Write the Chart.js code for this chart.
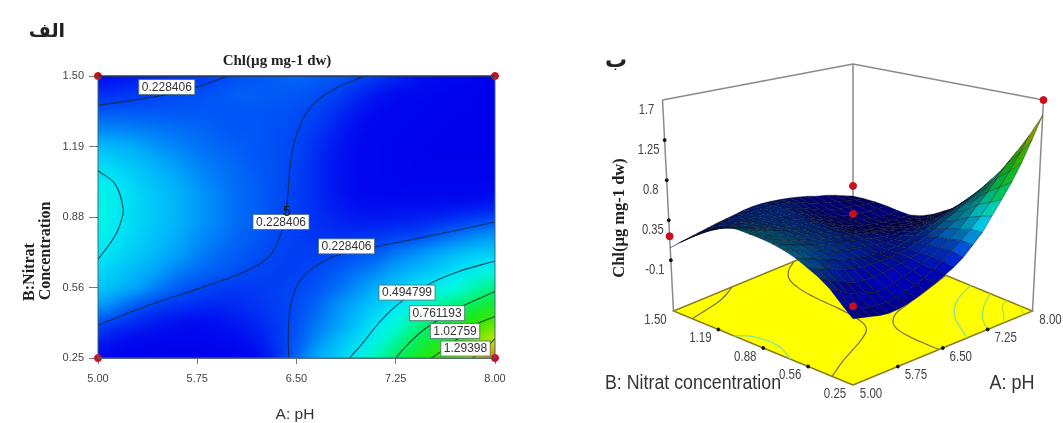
<!DOCTYPE html>
<html>
<head>
<meta charset="utf-8">
<title>Chl contour and surface</title>
<script src="https://cdn.jsdelivr.net/npm/chart.js@4/dist/chart.umd.js"></script>
<style>
  html, body { margin: 0; padding: 0; background: #fff; }
  canvas { position: absolute; top: 0; }
  #contourChart { left: 0; }
  #surfaceChart { left: 560px; }
</style>
</head>
<body>
<canvas id="contourChart" width="560" height="423"></canvas>
<canvas id="surfaceChart" width="503" height="423"></canvas>
<script>
// axis values
const phTicks = [5, 5.75, 6.5, 7.25, 8];
const phTickLabels = ['5.00', '5.75', '6.50', '7.25', '8.00'];
const nitrateTicks = [0.25, 0.5625, 0.875, 1.1875, 1.5];
const nitrateTickLabels = ['0.25', '0.56', '0.88', '1.19', '1.50'];
const chlTicks = [-0.1, 0.35, 0.8, 1.25, 1.7];
const chlTickLabels = ['-0.1', '0.35', '0.8', '1.25', '1.7'];

// grid positions
const phValues = [5, 5.15, 5.3, 5.45, 5.6, 5.75, 5.9, 6.05, 6.2, 6.35, 6.5, 6.65, 6.8, 6.95, 7.1, 7.25, 7.4, 7.55, 7.7, 7.85, 8];
const nitrateValues = [0.25, 0.328, 0.406, 0.484, 0.5625, 0.641, 0.719, 0.797, 0.875, 0.953, 1.031, 1.109, 1.1875, 1.266, 1.344, 1.422, 1.5];

// one row per nitrate value, one column per pH value
const chlGrid = [
  [.02, .02, .00, -.02, -.03, -.03, -.02, .02, .08, .17, .27, .36, .43, .53, .64, .76, .91, 1.05, 1.18, 1.32, 1.52],
  [.15, .11, .08, .05, .04, .04, .06, .09, .13, .19, .25, .32, .39, .46, .56, .67, .78, .91, 1.03, 1.16, 1.31],
  [.24, .20, .16, .13, .11, .10, .11, .13, .16, .20, .24, .29, .34, .41, .49, .58, .69, .79, .91, 1.03, 1.11],
  [.34, .30, .25, .215, .19, .17, .16, .17, .19, .21, .235, .27, .32, .37, .43, .49, .57, .66, .74, .82, .91],
  [.43, .39, .35, .30, .26, .235, .21, .20, .205, .215, .228, .245, .28, .32, .37, .42, .48, .53, .58, .65, .72],
  [.47, .43, .39, .35, .31, .28, .26, .24, .225, .215, .215, .23, .25, .28, .31, .35, .39, .43, .48, .52, .56],
  [.51, .47, .43, .39, .35, .31, .28, .26, .24, .225, .21, .21, .22, .235, .25, .29, .32, .35, .39, .42, .43],
  [.55, .49, .45, .41, .37, .33, .30, .27, .25, .23, .21, .19, .18, .18, .19, .205, .22, .25, .28, .31, .33],
  [.57, .51, .46, .42, .38, .34, .31, .28, .26, .235, .21, .18, .15, .13, .125, .13, .14, .15, .17, .19, .21],
  [.56, .51, .46, .42, .38, .34, .31, .28, .26, .24, .21, .17, .13, .10, .08, .07, .07, .07, .08, .09, .11],
  [.53, .49, .44, .40, .37, .33, .30, .275, .26, .24, .21, .17, .12, .08, .05, .03, .02, .02, .02, .02, .04],
  [.47, .44, .41, .37, .34, .31, .29, .27, .25, .24, .22, .17, .12, .08, .05, .02, .00, -.01, -.01, -.01, .00],
  [.40, .38, .36, .33, .31, .29, .27, .26, .25, .24, .225, .18, .13, .08, .05, .02, .00, -.02, -.02, -.02, -.02],
  [.31, .31, .30, .29, .28, .27, .26, .25, .25, .24, .23, .20, .15, .10, .06, .03, .01, -.01, -.02, -.03, -.03],
  [.25, .25, .25, .25, .25, .25, .25, .25, .25, .245, .24, .22, .18, .13, .09, .05, .03, .01, -.01, -.02, -.03],
  [.17, .18, .20, .22, .23, .24, .25, .26, .26, .255, .25, .24, .22, .17, .13, .09, .06, .03, .01, -.01, -.03],
  [.06, .12, .14, .16, .18, .20, .22, .24, .25, .26, .27, .26, .25, .235, .20, .16, .12, .09, .06, .03, -.05]
];

// same rows and columns
const surfaceGrid = [
  [-.04, -.06, -.08, -.10, -.11, -.10, -.08, -.05, -.01, .03, .08, .13, .20, .30, .40, .55, .70, .86, 1.05, 1.28, 1.53],
  [.06, .01, -.03, -.06, -.07, -.07, -.06, -.03, .01, .05, .10, .16, .23, .31, .40, .51, .63, .77, .92, 1.09, 1.28],
  [.17, .12, .07, .03, .01, -.01, .00, .02, .05, .08, .12, .17, .22, .28, .36, .46, .57, .68, .81, .95, 1.06],
  [.25, .20, .15, .11, .08, .07, .07, .08, .10, .12, .14, .17, .22, .27, .33, .39, .47, .56, .65, .74, .84],
  [.31, .27, .24, .20, .17, .15, .13, .13, .13, .14, .15, .17, .20, .24, .29, .34, .40, .46, .52, .60, .67],
  [.37, .33, .30, .26, .23, .20, .18, .16, .15, .14, .14, .15, .17, .20, .23, .27, .31, .35, .40, .45, .49],
  [.41, .38, .34, .31, .28, .25, .23, .21, .19, .175, .16, .15, .15, .16, .17, .20, .22, .25, .28, .31, .33],
  [.44, .40, .37, .34, .31, .28, .26, .24, .22, .20, .18, .16, .14, .13, .13, .13, .14, .15, .16, .18, .20],
  [.46, .42, .38, .35, .32, .29, .27, .25, .23, .21, .19, .16, .14, .12, .10, .09, .08, .08, .08, .09, .11],
  [.47, .43, .39, .36, .33, .30, .28, .26, .24, .22, .19, .15, .11, .08, .05, .03, .02, .01, .01, .01, .02],
  [.48, .44, .40, .37, .34, .31, .28, .26, .24, .22, .19, .15, .10, .06, .02, .00, -.02, -.03, -.04, -.05, -.05],
  [.47, .43, .40, .36, .33, .30, .28, .26, .24, .23, .20, .15, .10, .05, .02, -.02, -.04, -.06, -.07, -.08, -.09],
  [.41, .39, .36, .33, .31, .29, .27, .26, .25, .23, .21, .16, .11, .06, .02, -.01, -.04, -.06, -.08, -.09, -.09],
  [.35, .34, .32, .31, .29, .28, .26, .25, .24, .23, .22, .18, .13, .08, .03, .00, -.03, -.05, -.06, -.07, -.08],
  [.25, .25, .25, .24, .24, .24, .24, .24, .24, .23, .23, .20, .16, .11, .06, .03, .00, -.02, -.04, -.06, -.08],
  [.15, .16, .18, .19, .20, .21, .22, .22, .22, .22, .22, .21, .19, .15, .10, .06, .03, .00, -.03, -.06, -.09],
  [.04, .06, .08, .10, .12, .14, .155, .17, .19, .20, .20, .19, .175, .155, .13, .10, .06, .03, -.01, -.06, -.11]
];

// contour lines as [pH, nitrate]
const contour228a = [[5, 1.37], [5.55, 1.42], [5.74, 1.449], [5.98, 1.5]];
const contour228b = [[7.02, 1.5], [6.81, 1.449], [6.63, 1.376], [6.52, 1.27], [6.46, 1.14], [6.43, 0.944], [6.41, 0.87], [6.38, 0.797], [6.3, 0.705], [6.15, 0.643], [5.79, 0.563], [5.41, 0.489], [5, 0.396]];
const contour228c = [[6.44, 0.25], [6.44, 0.392], [6.46, 0.493], [6.51, 0.577], [6.61, 0.643], [6.81, 0.705], [7.07, 0.74], [7.46, 0.785], [8, 0.853]];
const contour495a = [[6.9, 0.25], [7, 0.316], [7.12, 0.404], [7.25, 0.48], [7.45, 0.562], [7.71, 0.63], [8, 0.68]];
const contour495b = [[5, 1.08], [5.13, 1.02], [5.19, 0.913], [5.18, 0.868], [5.13, 0.793], [5, 0.687]];
const contour761 = [[7.25, 0.25], [7.35, 0.316], [7.48, 0.383], [7.71, 0.466], [8, 0.545]];
const contour1028 = [[7.52, 0.25], [7.68, 0.316], [7.83, 0.39], [8, 0.434]];
const contour1294 = [[7.83, 0.25], [7.91, 0.283], [8, 0.336]];

// contour labels
const labelTexts = ['0.228406', '0.228406', '0.228406', '0.494799', '0.761193', '1.02759', '1.29398'];
const labelPh = [5.52, 6.383, 6.878, 7.335, 7.562, 7.698, 7.777];
const labelNitrate = [1.451, 0.853, 0.745, 0.54, 0.449, 0.37, 0.292];

// design points
const designPh = [5, 8, 6.5, 5, 8];
const designNitrate = [1.5, 1.5, 0.875, 0.25, 0.25];
const designChl = [0.17, 0.03, 0.42, 0.08, 1.7];

const contourStyle = [
  [contour228a, '#0a2b5c', '#77703a'],
  [contour228b, '#0a2b5c', '#77703a'],
  [contour228c, '#0a2b5c', '#77703a'],
  [contour495a, '#0b4a5c', '#7fe0a0'],
  [contour495b, '#0b4a5c', '#7fe0a0'],
  [contour761, '#0b4a3c', '#8fe070'],
  [contour1028, '#0b4a20', '#a9e040'],
  [contour1294, '#2a4a10', '#c8e020']
];

const colorStops = [
  [-0.03, 0, 0, 235], [0.1, 0, 10, 240], [0.228, 0, 70, 245], [0.36, 0, 170, 250],
  [0.4948, 0, 230, 245], [0.58, 0, 250, 225], [0.76, 0, 240, 100], [1.03, 40, 230, 0],
  [1.29, 200, 235, 0], [1.56, 255, 90, 0]
];

function chlRgb(v) {
  if (v <= colorStops[0][0]) return colorStops[0].slice(1);
  for (let i = 1; i < colorStops.length; i++) {
    const p = colorStops[i - 1], q = colorStops[i];
    if (v <= q[0]) {
      const t = (v - p[0]) / (q[0] - p[0]);
      return [p[1] + (q[1] - p[1]) * t, p[2] + (q[2] - p[2]) * t, p[3] + (q[3] - p[3]) * t];
    }
  }
  return colorStops[colorStops.length - 1].slice(1);
}

function drawText(ctx, text, x, y, font, color, angle, scaleX) {
  ctx.save();
  ctx.translate(x, y);
  if (angle) ctx.rotate(angle);
  if (scaleX) ctx.scale(scaleX, 1);
  ctx.font = font;
  ctx.fillStyle = color;
  ctx.textAlign = 'center';
  ctx.textBaseline = 'middle';
  ctx.fillText(text, 0, 0);
  ctx.restore();
}

// ---- left: contour plot ----

const heatmapPlugin = {
  id: 'heatmap',
  beforeDatasetsDraw(chart) {
    const { ctx, chartArea: area, scales: { x, y } } = chart;
    const nx = phValues.length, ny = nitrateValues.length;
    const small = document.createElement('canvas');
    small.width = nx;
    small.height = ny;
    const sctx = small.getContext('2d');
    const img = sctx.createImageData(nx, ny);
    for (let r = 0; r < ny; r++) {
      for (let c = 0; c < nx; c++) {
        const rgb = chlRgb(chlGrid[r][c]);
        const k = ((ny - 1 - r) * nx + c) * 4;
        img.data[k] = rgb[0];
        img.data[k + 1] = rgb[1];
        img.data[k + 2] = rgb[2];
        img.data[k + 3] = 255;
      }
    }
    sctx.putImageData(img, 0, 0);
    const halfW = (x.getPixelForValue(phValues[1]) - x.getPixelForValue(phValues[0])) / 2;
    const halfH = (y.getPixelForValue(nitrateValues[0]) - y.getPixelForValue(nitrateValues[1])) / 2;
    const left = x.getPixelForValue(phValues[0]) - halfW;
    const right = x.getPixelForValue(phValues[nx - 1]) + halfW;
    const top = y.getPixelForValue(nitrateValues[ny - 1]) - halfH;
    const bottom = y.getPixelForValue(nitrateValues[0]) + halfH;
    ctx.save();
    ctx.beginPath();
    ctx.rect(area.left, area.top, area.right - area.left, area.bottom - area.top);
    ctx.clip();
    ctx.imageSmoothingEnabled = true;
    ctx.imageSmoothingQuality = 'high';
    ctx.drawImage(small, left, top, right - left, bottom - top);
    ctx.restore();
  },
  afterDatasetsDraw(chart) {
    const { ctx, chartArea: area, scales: { x, y } } = chart;
    ctx.save();
    ctx.strokeStyle = '#3a6a80';
    ctx.lineWidth = 1;
    ctx.strokeRect(area.left, area.top, area.right - area.left, area.bottom - area.top);
    ctx.strokeStyle = '#223';
    ctx.beginPath();
    ctx.moveTo(area.left, area.top);
    ctx.lineTo(area.right, area.top);
    ctx.stroke();
    ctx.font = '12px "Liberation Sans"';
    labelTexts.forEach((t, i) => {
      const cx = x.getPixelForValue(labelPh[i]);
      const cy = y.getPixelForValue(labelNitrate[i]);
      const w = ctx.measureText(t).width + 6;
      ctx.fillStyle = '#fff';
      ctx.fillRect(cx - w / 2, cy - 7.5, w, 15);
      ctx.strokeStyle = 'rgba(70,110,110,0.8)';
      ctx.strokeRect(cx - w / 2, cy - 7.5, w, 15);
      drawText(ctx, t, cx, cy + 0.5, '12px "Liberation Sans"', '#333');
    });
    ctx.restore();
    drawText(ctx, '5', x.getPixelForValue(6.428), y.getPixelForValue(0.895), '14px "Liberation Sans"', '#111');
    drawText(ctx, 'الف', 47, 32, 'bold 19px "DejaVu Sans"', '#222');
    drawText(ctx, 'Chl(µg mg-1 dw)', 277, 61, 'bold 15px "Liberation Serif"', '#222');
    drawText(ctx, 'B:Nitrat', 30, 272, 'bold 16px "Liberation Serif"', '#222', -Math.PI / 2);
    drawText(ctx, 'Concentration', 46, 251, 'bold 16px "Liberation Serif"', '#222', -Math.PI / 2);
    drawText(ctx, 'A: pH', 295, 415, '15.5px "Liberation Sans"', '#333');
  }
};

const contourDatasets = contourStyle.map(c => ({
  data: c[0].map(p => ({ x: p[0], y: p[1] })),
  showLine: true,
  borderColor: c[1],
  borderWidth: 1.1,
  tension: 0.4,
  pointRadius: 0
}));

new Chart(document.getElementById('contourChart'), {
  type: 'scatter',
  data: {
    datasets: [{
      data: designPh.map((p, i) => ({ x: p, y: designNitrate[i] })),
      backgroundColor: '#c8101c',
      borderColor: '#c8101c',
      pointRadius: 3.5,
      clip: false
    }].concat(contourDatasets)
  },
  options: {
    responsive: false,
    animation: false,
    layout: { padding: { top: 76, right: 65, left: 0, bottom: 0 } },
    plugins: { legend: { display: false }, tooltip: { enabled: false } },
    scales: {
      x: {
        type: 'linear', min: 5, max: 8,
        afterBuildTicks: s => { s.ticks = phTicks.map(v => ({ value: v })); },
        afterFit: s => { s.height = 65; },
        grid: { drawOnChartArea: false, tickLength: 6, color: '#777' },
        border: { color: '#777' },
        ticks: {
          padding: 8, color: '#444', maxRotation: 0, autoSkip: false,
          font: { family: 'Liberation Sans', size: 11 },
          callback: v => phTickLabels[phTicks.indexOf(v)]
        }
      },
      y: {
        type: 'linear', min: 0.25, max: 1.5,
        afterBuildTicks: s => { s.ticks = nitrateTicks.map(v => ({ value: v })); },
        afterFit: s => { s.width = 98; },
        grid: { drawOnChartArea: false, tickLength: 9, color: '#777' },
        border: { color: '#777' },
        ticks: {
          padding: 5, color: '#444', autoSkip: false,
          font: { family: 'Liberation Sans', size: 11 },
          callback: v => nitrateTickLabels[nitrateTicks.indexOf(v)]
        }
      }
    }
  },
  plugins: [heatmapPlugin]
});

// ---- right: surface plot ----

const zFloor = -0.67;
const zTop = 1.7;

function project(ph, nitrate, z) {
  const a = (ph - 5) / 3;
  const b = (nitrate - 0.25) / 1.25;
  const xf = 853 + 179.5 * a - 179.5 * b;
  const yf = 385 - 74 * a - 74 * b;
  const h = (z - zFloor) * (105 - 16 * (a + b));
  return { x: 853 + (xf - 853) * (1 + 0.00029 * h), y: yf - h };
}

function surfaceColor(c, r) {
  const g = surfaceGrid;
  const zm = (g[r][c] + g[r][c + 1] + g[r + 1][c] + g[r + 1][c + 1]) / 4;
  const dzA = ((g[r][c + 1] + g[r + 1][c + 1]) - (g[r][c] + g[r + 1][c])) / 2 * (phValues.length - 1);
  const dzB = ((g[r + 1][c] + g[r + 1][c + 1]) - (g[r][c] + g[r][c + 1])) / 2 * (nitrateValues.length - 1);
  let shade = 0.5 + 0.18 * (dzA + dzB);
  if (zm > 0.7) shade = Math.max(shade, 0.65);
  shade = Math.min(0.95, Math.max(0.28, shade));
  const rgb = chlRgb(zm);
  return 'rgb(' + Math.round(rgb[0] * shade) + ',' + Math.round(rgb[1] * shade) + ',' + Math.round(rgb[2] * shade) + ')';
}

const quads = [];
for (let r = 0; r < nitrateValues.length - 1; r++) {
  for (let c = 0; c < phValues.length - 1; c++) {
    quads.push({ depth: r / 16 + c / 20, r, c });
  }
}
quads.sort((p, q) => p.depth - q.depth);

const quadDatasets = quads.map(q => ({
  data: [
    project(phValues[q.c], nitrateValues[q.r], surfaceGrid[q.r][q.c]),
    project(phValues[q.c + 1], nitrateValues[q.r], surfaceGrid[q.r][q.c + 1]),
    project(phValues[q.c + 1], nitrateValues[q.r + 1], surfaceGrid[q.r + 1][q.c + 1]),
    project(phValues[q.c], nitrateValues[q.r + 1], surfaceGrid[q.r + 1][q.c]),
    project(phValues[q.c], nitrateValues[q.r], surfaceGrid[q.r][q.c])
  ],
  showLine: true,
  fill: 'shape',
  backgroundColor: surfaceColor(q.c, q.r),
  borderColor: 'rgba(0,0,20,0.5)',
  borderWidth: 0.6,
  pointRadius: 0,
  clip: false
}));

const floorContours = contourStyle.map(c => ({
  data: c[0].map(p => project(p[0], p[1], zFloor)),
  showLine: true,
  borderColor: c[2],
  borderWidth: 1.2,
  tension: 0.4,
  pointRadius: 0,
  clip: false
}));

const boxLine = pts => ({
  data: pts,
  showLine: true,
  borderColor: '#8a8a8a',
  borderWidth: 1.5,
  pointRadius: 0,
  clip: false
});

const floorTicks = [];
phTicks.slice(1, 4).forEach(p => floorTicks.push(project(p, 0.25, zFloor)));
nitrateTicks.slice(1, 4).forEach(n => floorTicks.push(project(5, n, zFloor)));
const chlTickPoints = chlTicks.slice(0, 4).map(z => project(5, 1.5, z));

const surfaceDatasets = [{
  data: designPh.map((p, i) => project(p, designNitrate[i], designChl[i])),
  backgroundColor: '#c8101c',
  borderColor: '#c8101c',
  pointRadius: 3.5,
  clip: false
}, {
  data: floorTicks.concat(chlTickPoints),
  backgroundColor: '#111',
  borderColor: '#111',
  pointRadius: 1.5,
  clip: false
}].concat(quadDatasets, floorContours, [
  boxLine([project(5, 1.5, zTop), project(5, 1.5, zFloor)]),
  boxLine([project(8, 0.25, zTop), project(8, 0.25, zFloor)]),
  {
    data: [project(5, 0.25, zFloor), project(8, 0.25, zFloor), project(8, 1.5, zFloor), project(5, 1.5, zFloor), project(5, 0.25, zFloor)],
    showLine: true,
    fill: 'shape',
    backgroundColor: '#ffff00',
    borderColor: '#8a7d20',
    borderWidth: 1.5,
    pointRadius: 0,
    clip: false
  },
  boxLine([project(5, 1.5, zTop), project(8, 1.5, zTop), project(8, 0.25, zTop)]),
  boxLine([project(8, 1.5, zTop), project(8, 1.5, zFloor)])
]);

const surfaceTextPlugin = {
  id: 'surfaceText',
  afterDatasetsDraw(chart) {
    const { ctx, scales: { x, y } } = chart;
    const font = '14px "Liberation Sans"';
    const put = (t, px, py, f, col, ang, sx) => drawText(ctx, t, x.getPixelForValue(px), y.getPixelForValue(py), f, col, ang, sx);
    phTicks.forEach((p, i) => {
      const q = project(p, 0.25, zFloor);
      put(phTickLabels[i], q.x + 18, q.y + 9, font, '#444', 0, 0.82);
    });
    nitrateTicks.forEach((n, i) => {
      const q = project(5, n, zFloor);
      put(nitrateTickLabels[i], q.x - 18, q.y + 9, font, '#444', 0, 0.82);
    });
    chlTicks.forEach((z, i) => {
      const q = project(5, 1.5, z);
      put(chlTickLabels[i], q.x - 16, q.y + 10, font, '#444', 0, 0.8);
    });
    put('ب', 616, 61, 'bold 22px "DejaVu Sans"', '#222');
    put('B: Nitrat concentration', 693, 383, '20px "Liberation Sans"', '#333', 0, 0.89);
    put('A: pH', 1012, 383, '20px "Liberation Sans"', '#333', 0, 0.9);
    put('Chl(µg mg-1 dw)', 620, 218, 'bold 16.5px "Liberation Serif"', '#222', -Math.PI / 2);
  }
};

new Chart(document.getElementById('surfaceChart'), {
  type: 'scatter',
  data: { datasets: surfaceDatasets },
  options: {
    responsive: false,
    animation: false,
    layout: { autoPadding: false, padding: 0 },
    plugins: { legend: { display: false }, tooltip: { enabled: false } },
    scales: {
      x: { type: 'linear', min: 560, max: 1063, display: false },
      y: { type: 'linear', min: 0, max: 423, reverse: true, display: false }
    }
  },
  plugins: [surfaceTextPlugin]
});
</script>
</body>
</html>
